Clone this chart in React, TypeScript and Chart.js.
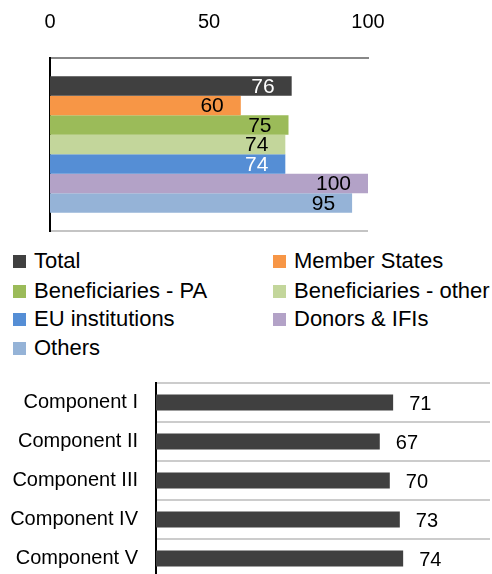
import React, { useEffect, useRef } from "react";
import { Chart, registerables } from "chart.js";

Chart.register(...registerables);

// ---------- data ----------
const groupLabels = ["Total", "Member States", "Beneficiaries - PA", "Beneficiaries - other", "EU institutions", "Donors & IFIs", "Others"];
const groupValues = [76, 60, 75, 74, 74, 100, 95];
const groupColors = ["#404040", "#F79646", "#9BBB59", "#C3D69B", "#558ED5", "#B3A2C7", "#95B3D7"];
const groupLabelColors = ["#ffffff", "#000000", "#000000", "#000000", "#ffffff", "#000000", "#000000"];
const topTicks = [0, 50, 100];

const componentLabels = ["Component I", "Component II", "Component III", "Component IV", "Component V"];
const componentValues = [71, 67, 70, 73, 74];
const componentColor = "#404040";

const FONT = "'Liberation Sans', Arial, sans-serif";

const insideLabels = {
  id: "insideLabels",
  afterDatasetsDraw(chart: any) {
    const ctx = chart.ctx;
    ctx.save();
    ctx.font = `21px ${FONT}`;
    ctx.textAlign = "right";
    ctx.textBaseline = "middle";
    chart.data.datasets.forEach((ds: any, i: number) => {
      const meta = chart.getDatasetMeta(i);
      meta.data.forEach((bar: any, j: number) => {
        ctx.fillStyle = groupLabelColors[i];
        ctx.fillText(String(ds.data[j]), bar.x - 17, bar.y + 1);
      });
    });
    ctx.restore();
  },
};

const outsideLabels = {
  id: "outsideLabels",
  afterDatasetsDraw(chart: any) {
    const ctx = chart.ctx;
    ctx.save();
    ctx.font = `20px ${FONT}`;
    ctx.textAlign = "left";
    ctx.textBaseline = "middle";
    ctx.fillStyle = "#000";
    chart.data.datasets.forEach((ds: any, i: number) => {
      const meta = chart.getDatasetMeta(i);
      meta.data.forEach((bar: any, j: number) => {
        ctx.fillText(String(ds.data[j]), bar.x + 16, bar.y + 2);
      });
    });
    ctx.restore();
  },
};

export default function App() {
  const topRef = useRef<HTMLCanvasElement>(null);
  const botRef = useRef<HTMLCanvasElement>(null);

  useEffect(() => {
    const top = new Chart(topRef.current!, {
      type: "bar",
      data: {
        labels: [""],
        datasets: groupLabels.map((l, i) => ({
          label: l,
          data: [groupValues[i]],
          backgroundColor: groupColors[i],
          borderWidth: 0,
          categoryPercentage: 0.79,
          barPercentage: 1,
        })),
      },
      options: {
        indexAxis: "y",
        responsive: false,
        animation: false,
        layout: { autoPadding: false, padding: { left: 50, right: 124, top: 0, bottom: 9 } },
        plugins: { legend: { display: false }, tooltip: { enabled: false } },
        scales: {
          x: {
            position: "top",
            min: 0,
            max: 100,
            afterBuildTicks: (s: any) => {
              s.ticks = topTicks.map((v) => ({ value: v }));
            },
            afterFit: (s: any) => {
              s.height = 58;
            },
            ticks: { font: { family: FONT, size: 20 }, color: "#000", padding: 24, maxRotation: 0 },
            grid: { display: false, drawTicks: false },
            border: { display: true, color: "#888888", width: 2 },
          },
          y: {
            afterFit: (s: any) => {
              s.width = 0;
            },
            ticks: { display: false },
            grid: {
              offset: true,
              drawTicks: false,
              lineWidth: 2,
              color: (c: any) => (c.index === 0 ? "rgba(0,0,0,0)" : "#c4c4c4"),
            },
            border: { display: true, color: "#000", width: 2 },
          },
        },
      },
      plugins: [insideLabels],
    } as any);

    const bot = new Chart(botRef.current!, {
      type: "bar",
      data: {
        labels: componentLabels,
        datasets: [
          {
            label: "Components",
            data: componentValues,
            backgroundColor: componentColor,
            borderWidth: 0,
            categoryPercentage: 1,
            barPercentage: 0.41,
          },
        ],
      },
      options: {
        indexAxis: "y",
        responsive: false,
        animation: false,
        layout: { autoPadding: false, padding: { left: 0, right: 2, top: 13, bottom: 2 } },
        plugins: { legend: { display: false }, tooltip: { enabled: false } },
        scales: {
          x: { display: false, min: 0, max: 100 },
          y: {
            afterFit: (s: any) => {
              s.width = 156;
              s.paddingTop = 0;
              s.paddingBottom = 0;
            },
            ticks: { font: { family: FONT, size: 20 }, color: "#000", padding: 18 },
            grid: { offset: true, drawTicks: false, lineWidth: 2, color: "#cccccc" },
            border: { display: true, color: "#000", width: 2 },
          },
        },
      },
      plugins: [outsideLabels],
    } as any);

    return () => {
      top.destroy();
      bot.destroy();
    };
  }, []);

  const legendRows = [261, 291, 319, 348];
  const legendCols = [13, 273];

  return (
    <div style={{ position: "absolute", left: 0, top: 0, width: 492, height: 574, overflow: "hidden", background: "#fff" }}>
      <canvas ref={topRef} width={492} height={240} style={{ position: "absolute", left: 0, top: 0 }} />
      {groupLabels.map((l, i) => {
        const row = Math.floor(i / 2);
        const col = i % 2;
        return (
          <div
            key={l}
            style={{
              position: "absolute",
              left: legendCols[col],
              top: legendRows[row] - 13,
              height: 26,
              display: "flex",
              alignItems: "center",
              fontFamily: FONT,
              fontSize: 22,
              color: "#000",
              whiteSpace: "nowrap",
            }}
          >
            <span style={{ display: "inline-block", width: 13, height: 13, background: groupColors[i], marginRight: 8 }} />
            <span>{l}</span>
          </div>
        );
      })}
      <canvas ref={botRef} width={492} height={210} style={{ position: "absolute", left: 0, top: 370 }} />
    </div>
  );
}
